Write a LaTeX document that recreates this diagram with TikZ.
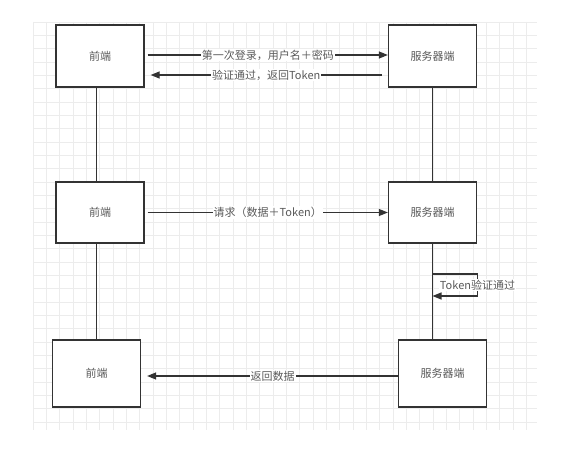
\documentclass[tikz,border=0pt]{standalone}
\usepackage{fontspec}
\setmainfont{Noto Sans CJK SC}
\usepackage{xcolor}
\usetikzlibrary{arrows.meta}
\definecolor{ink}{HTML}{333333}
\definecolor{txt}{HTML}{5A5A5A}
\definecolor{gridc}{HTML}{ECECEC}

\begin{document}
\begin{tikzpicture}[
  x=1pt, y=-1pt,
  >={Triangle[length=9pt,width=7pt]},
  party/.style={
    draw=ink,
    line width=1.3pt,
    fill=white,
    inner sep=0pt,
    minimum width=88pt,
    minimum height=62pt,
    font=\fontsize{11}{13}\selectfont,
    text=txt
  },
  msg/.style={->, line width=1.2pt, draw=ink},
  lifeline/.style={line width=1.3pt, draw=ink},
  msglabel/.style={fill=white, inner sep=1pt, font=\fontsize{11}{13}\selectfont, text=txt},
  gridline/.style={draw=gridc, line width=0.6pt}
]

\fill[white] (0,0) rectangle (565,449);
\useasboundingbox (0,0) rectangle (565,449);

% background grid
\foreach \k in {0,...,37}
  \draw[gridline] (33+\k*13.33,22) -- (33+\k*13.33,430);
\foreach \k in {0,...,30}
  \draw[gridline] (33,22+\k*13.33) -- (537,22+\k*13.33);

\node[party] (fe1) at (100,56) {前端};
\node[party] (sv1) at (432.5,56) {服务器端};

\node[party, minimum height=61pt] (fe2) at (100,212.5) {前端};
\node[party, minimum height=61pt] (sv2) at (432.5,212.5) {服务器端};

\node[party, minimum height=67pt] (fe3) at (96.5,373.5) {前端};
\node[party, minimum height=67pt] (sv3) at (442.5,373.5) {服务器端};

\coordinate (chkA) at (432.5,274);
\coordinate (chkB) at (432.5,296);

\draw[lifeline] (fe1.south -| fe3.north) -- (fe2.north -| fe3.north);
\draw[lifeline] (fe2.south -| fe3.north) -- (fe3.north);
\draw[lifeline] (sv1.south) -- (sv2.north);
\draw[lifeline] (sv2.south) -- (sv2.south |- sv3.north);

\draw[msg] ([xshift=3pt,yshift=1pt]fe1.east) -- node[msglabel] {第一次登录，用户名＋密码} ([yshift=1pt]sv1.west);
\draw[msg] ([xshift=-6pt,yshift=-19pt]sv1.west) -- node[msglabel] {验证通过，返回Token} ([xshift=6pt,yshift=-19pt]fe1.east);

\draw[msg] ([xshift=3pt]fe2.east) -- node[msglabel] {请求（数据＋Token）} (sv2.west);

\draw[msg] (chkA) -- ++(45,0) -- node[msglabel] {Token验证通过} ++(0,22) -- (chkB);

\draw[msg] ([yshift=-2.5pt]sv3.west) -- node[msglabel] {返回数据} ([xshift=6pt,yshift=-2.5pt]fe3.east);

\end{tikzpicture}
\end{document}
